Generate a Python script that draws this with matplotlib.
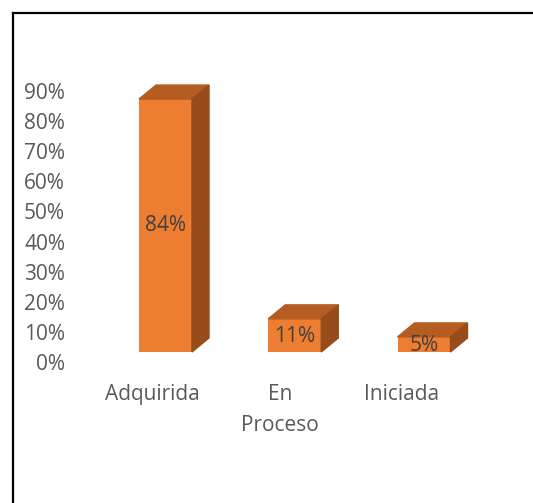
import matplotlib.pyplot as plt
from matplotlib.patches import Polygon
from matplotlib.transforms import ScaledTranslation
import numpy as np

# datos del gráfico
categorias = ['Adquirida', 'En\nProceso', 'Iniciada']
valores = [0.84, 0.11, 0.05]
etiquetas = ['84%', '11%', '5%']
ticks_y = [0.0, 0.1, 0.2, 0.3, 0.4, 0.5, 0.6, 0.7, 0.8, 0.9]
ticks_txt = ['0%', '10%', '20%', '30%', '40%', '50%', '60%', '70%', '80%', '90%']

# colores (estilo Excel 3D)
c_frente = '#ED7D31'
c_techo = '#B45C22'
c_lado = '#984C1B'
c_texto = '#595959'

W, H = 533, 503
dpi = 100
plt.rcParams['font.family'] = ['Open Sans', 'DejaVu Sans']

fig = plt.figure(figsize=(W / dpi, H / dpi), dpi=dpi)

# ejes en pixeles
ax_l, ax_r = 72, 500
ax_t, ax_b = 81, 352
ax = fig.add_axes([ax_l / W, (H - ax_b) / H, (ax_r - ax_l) / W, (ax_b - ax_t) / H])

x = np.arange(len(valores))
px_x = 129.25          # pixeles por categoria
x0 = (165.5 - ax_l) / px_x
ax.set_xlim(-x0, -x0 + (ax_r - ax_l) / px_x)
ax.set_ylim(0, 0.9)
px_y = (ax_b - ax_t) / 0.9

ancho = 53 / px_x
dx = 17 / px_x
dy = 14 / px_y

ax.bar(x, valores, width=ancho, color=c_frente, zorder=3)
for xi, v in zip(x, valores):
    l, r = xi - ancho / 2, xi + ancho / 2
    techo = [(l, v), (r, v), (r + dx, v + dy), (l + dx, v + dy)]
    lado = [(r, 0), (r + dx, dy), (r + dx, v + dy), (r, v)]
    ax.add_patch(Polygon(techo, closed=True, color=c_techo, zorder=3, clip_on=False))
    ax.add_patch(Polygon(lado, closed=True, color=c_lado, zorder=3, clip_on=False))

# etiquetas de datos
for xi, v, t in zip(x, valores, etiquetas):
    ax.text(xi, v / 2 if v > 0.3 else v / 2 - 0.003, t, ha='center', va='center',
            fontsize=15, color='#404040', zorder=4)

ax.set_yticks(ticks_y)
ax.set_yticklabels(ticks_txt, fontsize=15, color=c_texto)
ax.set_xticks(x)
ax.set_xticklabels(categorias, fontsize=15, color=c_texto, linespacing=1.65)
ax.tick_params(axis='y', length=0, pad=5)
ax.tick_params(axis='x', length=0, pad=23)

# desplazar etiquetas como en la perspectiva de Excel
off_y = ScaledTranslation(0, -10 / dpi, fig.dpi_scale_trans)
for lab in ax.get_yticklabels():
    lab.set_transform(lab.get_transform() + off_y)
for lab, d in zip(ax.get_xticklabels(), [-13, -15, -22]):
    lab.set_transform(lab.get_transform() + ScaledTranslation(d / dpi, 0, fig.dpi_scale_trans))

for s in ax.spines.values():
    s.set_visible(False)

# marco (solo arriba e izquierda)
fig.add_artist(plt.Line2D([12.5 / W, 12.5 / W], [0, 1 - 12.5 / H], color='black', lw=1.6))
fig.add_artist(plt.Line2D([12.5 / W, 1], [1 - 12.5 / H, 1 - 12.5 / H], color='black', lw=1.6))

fig.savefig('out.png', dpi=dpi)
